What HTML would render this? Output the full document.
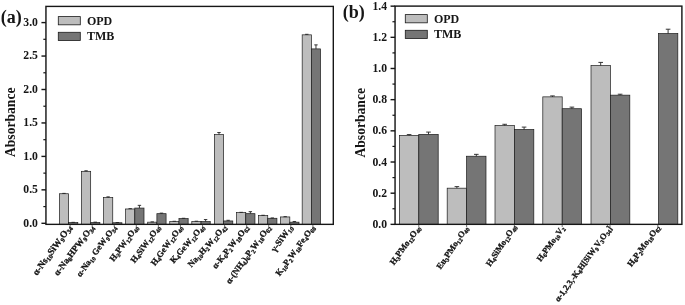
<!DOCTYPE html>
<html><head><meta charset="utf-8"><title>Absorbance charts</title>
<style>
html,body{margin:0;padding:0;background:#fff;}
body{width:685px;height:305px;overflow:hidden;font-family:"Liberation Serif",serif;}
svg{display:block;}
</style></head><body>
<svg width="685" height="305" viewBox="0 0 685 305">
<rect width="685" height="305" fill="#ffffff"/>
<defs><filter id="soft" x="0" y="0" width="685" height="305" filterUnits="userSpaceOnUse"><feGaussianBlur stdDeviation="0.38"/></filter></defs>
<g filter="url(#soft)">
<rect x="59.40" y="193.73" width="9.20" height="30.62" fill="#bdbdbd" stroke="#1c1c1c" stroke-width="0.7"/>
<path d="M64.00 193.73V193.40M62.30 193.40H65.70" stroke="#222" stroke-width="0.9" fill="none"/>
<rect x="68.60" y="222.63" width="9.20" height="1.72" fill="#747474" stroke="#1c1c1c" stroke-width="0.7"/>
<path d="M73.20 222.63V222.36M71.50 222.36H74.90" stroke="#222" stroke-width="0.9" fill="none"/>
<rect x="81.47" y="171.32" width="9.20" height="53.03" fill="#bdbdbd" stroke="#1c1c1c" stroke-width="0.7"/>
<path d="M86.07 171.32V170.78M84.37 170.78H87.77" stroke="#222" stroke-width="0.9" fill="none"/>
<rect x="90.67" y="222.43" width="9.20" height="1.92" fill="#747474" stroke="#1c1c1c" stroke-width="0.7"/>
<path d="M95.27 222.43V222.16M93.57 222.16H96.97" stroke="#222" stroke-width="0.9" fill="none"/>
<rect x="103.54" y="197.54" width="9.20" height="26.81" fill="#bdbdbd" stroke="#1c1c1c" stroke-width="0.7"/>
<path d="M108.14 197.54V196.87M106.44 196.87H109.84" stroke="#222" stroke-width="0.9" fill="none"/>
<rect x="112.74" y="222.76" width="9.20" height="1.59" fill="#747474" stroke="#1c1c1c" stroke-width="0.7"/>
<path d="M117.34 222.76V222.50M115.64 222.50H119.04" stroke="#222" stroke-width="0.9" fill="none"/>
<rect x="125.61" y="208.98" width="9.20" height="15.37" fill="#bdbdbd" stroke="#1c1c1c" stroke-width="0.7"/>
<path d="M130.21 208.98V208.65M128.51 208.65H131.91" stroke="#222" stroke-width="0.9" fill="none"/>
<rect x="134.81" y="208.05" width="9.20" height="16.30" fill="#747474" stroke="#1c1c1c" stroke-width="0.7"/>
<path d="M139.41 208.05V205.37M137.71 205.37H141.11" stroke="#222" stroke-width="0.9" fill="none"/>
<rect x="147.68" y="222.16" width="9.20" height="2.19" fill="#bdbdbd" stroke="#1c1c1c" stroke-width="0.7"/>
<path d="M152.28 222.16V221.90M150.58 221.90H153.98" stroke="#222" stroke-width="0.9" fill="none"/>
<rect x="156.88" y="213.67" width="9.20" height="10.68" fill="#747474" stroke="#1c1c1c" stroke-width="0.7"/>
<path d="M161.48 213.67V213.13M159.78 213.13H163.18" stroke="#222" stroke-width="0.9" fill="none"/>
<rect x="169.75" y="221.56" width="9.20" height="2.79" fill="#bdbdbd" stroke="#1c1c1c" stroke-width="0.7"/>
<path d="M174.35 221.56V221.29M172.65 221.29H176.05" stroke="#222" stroke-width="0.9" fill="none"/>
<rect x="178.95" y="218.62" width="9.20" height="5.73" fill="#747474" stroke="#1c1c1c" stroke-width="0.7"/>
<path d="M183.55 218.62V218.28M181.85 218.28H185.25" stroke="#222" stroke-width="0.9" fill="none"/>
<rect x="191.82" y="221.56" width="9.20" height="2.79" fill="#bdbdbd" stroke="#1c1c1c" stroke-width="0.7"/>
<path d="M196.42 221.56V221.23M194.72 221.23H198.12" stroke="#222" stroke-width="0.9" fill="none"/>
<rect x="201.02" y="221.56" width="9.20" height="2.79" fill="#747474" stroke="#1c1c1c" stroke-width="0.7"/>
<path d="M205.62 221.56V219.55M203.92 219.55H207.32" stroke="#222" stroke-width="0.9" fill="none"/>
<rect x="214.39" y="134.52" width="9.20" height="89.83" fill="#bdbdbd" stroke="#1c1c1c" stroke-width="0.7"/>
<path d="M218.99 134.52V132.52M217.29 132.52H220.69" stroke="#222" stroke-width="0.9" fill="none"/>
<rect x="223.59" y="220.96" width="9.20" height="3.39" fill="#747474" stroke="#1c1c1c" stroke-width="0.7"/>
<path d="M228.19 220.96V220.29M226.49 220.29H229.89" stroke="#222" stroke-width="0.9" fill="none"/>
<rect x="236.56" y="212.60" width="9.20" height="11.75" fill="#bdbdbd" stroke="#1c1c1c" stroke-width="0.7"/>
<path d="M241.16 212.60V212.33M239.46 212.33H242.86" stroke="#222" stroke-width="0.9" fill="none"/>
<rect x="245.76" y="213.67" width="9.20" height="10.68" fill="#747474" stroke="#1c1c1c" stroke-width="0.7"/>
<path d="M250.36 213.67V211.66M248.66 211.66H252.06" stroke="#222" stroke-width="0.9" fill="none"/>
<rect x="258.53" y="215.61" width="9.20" height="8.74" fill="#bdbdbd" stroke="#1c1c1c" stroke-width="0.7"/>
<path d="M263.13 215.61V215.27M261.43 215.27H264.83" stroke="#222" stroke-width="0.9" fill="none"/>
<rect x="267.73" y="218.28" width="9.20" height="6.07" fill="#747474" stroke="#1c1c1c" stroke-width="0.7"/>
<path d="M272.33 218.28V217.95M270.63 217.95H274.03" stroke="#222" stroke-width="0.9" fill="none"/>
<rect x="280.60" y="216.94" width="9.20" height="7.41" fill="#bdbdbd" stroke="#1c1c1c" stroke-width="0.7"/>
<path d="M285.20 216.94V216.68M283.50 216.68H286.90" stroke="#222" stroke-width="0.9" fill="none"/>
<rect x="289.80" y="222.16" width="9.20" height="2.19" fill="#747474" stroke="#1c1c1c" stroke-width="0.7"/>
<path d="M294.40 222.16V221.49M292.70 221.49H296.10" stroke="#222" stroke-width="0.9" fill="none"/>
<rect x="302.17" y="34.84" width="9.20" height="189.51" fill="#bdbdbd" stroke="#1c1c1c" stroke-width="0.7"/>
<path d="M306.77 34.84V34.31M305.07 34.31H308.47" stroke="#222" stroke-width="0.9" fill="none"/>
<rect x="311.37" y="48.89" width="9.20" height="175.46" fill="#747474" stroke="#1c1c1c" stroke-width="0.7"/>
<path d="M315.97 48.89V44.88M314.27 44.88H317.67" stroke="#222" stroke-width="0.9" fill="none"/>
<rect x="45.95" y="6.4" width="287.35" height="217.95" stroke="#141414" stroke-width="1.4" fill="none"/>
<line x1="41.45" x2="45.95" y1="223.30" y2="223.30" stroke="#141414" stroke-width="1.4"/>
<text x="37.95" y="226.70" font-family="Liberation Serif, serif" font-weight="bold" font-size="11.7" text-anchor="end" fill="#141414">0.0</text>
<line x1="41.45" x2="45.95" y1="189.85" y2="189.85" stroke="#141414" stroke-width="1.4"/>
<text x="37.95" y="193.25" font-family="Liberation Serif, serif" font-weight="bold" font-size="11.7" text-anchor="end" fill="#141414">0.5</text>
<line x1="41.45" x2="45.95" y1="156.40" y2="156.40" stroke="#141414" stroke-width="1.4"/>
<text x="37.95" y="159.80" font-family="Liberation Serif, serif" font-weight="bold" font-size="11.7" text-anchor="end" fill="#141414">1.0</text>
<line x1="41.45" x2="45.95" y1="122.95" y2="122.95" stroke="#141414" stroke-width="1.4"/>
<text x="37.95" y="126.35" font-family="Liberation Serif, serif" font-weight="bold" font-size="11.7" text-anchor="end" fill="#141414">1.5</text>
<line x1="41.45" x2="45.95" y1="89.50" y2="89.50" stroke="#141414" stroke-width="1.4"/>
<text x="37.95" y="92.90" font-family="Liberation Serif, serif" font-weight="bold" font-size="11.7" text-anchor="end" fill="#141414">2.0</text>
<line x1="41.45" x2="45.95" y1="56.05" y2="56.05" stroke="#141414" stroke-width="1.4"/>
<text x="37.95" y="59.45" font-family="Liberation Serif, serif" font-weight="bold" font-size="11.7" text-anchor="end" fill="#141414">2.5</text>
<line x1="41.45" x2="45.95" y1="22.60" y2="22.60" stroke="#141414" stroke-width="1.4"/>
<text x="37.95" y="26.00" font-family="Liberation Serif, serif" font-weight="bold" font-size="11.7" text-anchor="end" fill="#141414">3.0</text>
<line x1="43.35" x2="45.95" y1="206.58" y2="206.58" stroke="#141414" stroke-width="1.2"/>
<line x1="43.35" x2="45.95" y1="173.12" y2="173.12" stroke="#141414" stroke-width="1.2"/>
<line x1="43.35" x2="45.95" y1="139.68" y2="139.68" stroke="#141414" stroke-width="1.2"/>
<line x1="43.35" x2="45.95" y1="106.22" y2="106.22" stroke="#141414" stroke-width="1.2"/>
<line x1="43.35" x2="45.95" y1="72.78" y2="72.78" stroke="#141414" stroke-width="1.2"/>
<line x1="43.35" x2="45.95" y1="39.32" y2="39.32" stroke="#141414" stroke-width="1.2"/>
<line x1="70.10" x2="70.10" y1="224.35" y2="227.04999999999998" stroke="#333" stroke-width="0.7"/>
<line x1="92.17" x2="92.17" y1="224.35" y2="227.04999999999998" stroke="#333" stroke-width="0.7"/>
<line x1="114.24" x2="114.24" y1="224.35" y2="227.04999999999998" stroke="#333" stroke-width="0.7"/>
<line x1="136.31" x2="136.31" y1="224.35" y2="227.04999999999998" stroke="#333" stroke-width="0.7"/>
<line x1="158.38" x2="158.38" y1="224.35" y2="227.04999999999998" stroke="#333" stroke-width="0.7"/>
<line x1="180.45" x2="180.45" y1="224.35" y2="227.04999999999998" stroke="#333" stroke-width="0.7"/>
<line x1="202.52" x2="202.52" y1="224.35" y2="227.04999999999998" stroke="#333" stroke-width="0.7"/>
<line x1="224.59" x2="224.59" y1="224.35" y2="227.04999999999998" stroke="#333" stroke-width="0.7"/>
<line x1="246.66" x2="246.66" y1="224.35" y2="227.04999999999998" stroke="#333" stroke-width="0.7"/>
<line x1="268.73" x2="268.73" y1="224.35" y2="227.04999999999998" stroke="#333" stroke-width="0.7"/>
<line x1="290.80" x2="290.80" y1="224.35" y2="227.04999999999998" stroke="#333" stroke-width="0.7"/>
<line x1="312.87" x2="312.87" y1="224.35" y2="227.04999999999998" stroke="#333" stroke-width="0.7"/>
<text transform="translate(72.20 227.75) rotate(-54)" font-family="Liberation Serif, serif" font-weight="bold" font-size="9.48" text-anchor="end" fill="#141414" stroke="#141414" stroke-width="0.3"><tspan dy="0">α-Ns</tspan><tspan font-size="6.43" dy="1.6">10</tspan><tspan dy="-1.6">SiW</tspan><tspan font-size="6.43" dy="1.6">9</tspan><tspan dy="-1.6">O</tspan><tspan font-size="6.43" dy="1.6">34</tspan></text>
<text transform="translate(94.57 227.75) rotate(-53)" font-family="Liberation Serif, serif" font-weight="bold" font-size="9.13" text-anchor="end" fill="#141414" stroke="#141414" stroke-width="0.3"><tspan dy="0">α-Na</tspan><tspan font-size="6.2" dy="1.6">8</tspan><tspan dy="-1.6">HPW</tspan><tspan font-size="6.2" dy="1.6">9</tspan><tspan dy="-1.6">O</tspan><tspan font-size="6.2" dy="1.6">34</tspan></text>
<text transform="translate(116.64 227.75) rotate(-54)" font-family="Liberation Serif, serif" font-weight="bold" font-size="8.70" text-anchor="end" fill="#141414" stroke="#141414" stroke-width="0.3"><tspan dy="0">α-Na</tspan><tspan font-size="5.9" dy="1.6">10</tspan><tspan dy="-1.6"> GeW</tspan><tspan font-size="5.9" dy="1.6">9</tspan><tspan dy="-1.6">O</tspan><tspan font-size="5.9" dy="1.6">34</tspan></text>
<text transform="translate(138.71 227.75) rotate(-54)" font-family="Liberation Serif, serif" font-weight="bold" font-size="8.70" text-anchor="end" fill="#141414" stroke="#141414" stroke-width="0.3"><tspan dy="0">H</tspan><tspan font-size="5.9" dy="1.6">3</tspan><tspan dy="-1.6">PW</tspan><tspan font-size="5.9" dy="1.6">12</tspan><tspan dy="-1.6">O</tspan><tspan font-size="5.9" dy="1.6">40</tspan></text>
<text transform="translate(160.78 227.75) rotate(-54)" font-family="Liberation Serif, serif" font-weight="bold" font-size="8.70" text-anchor="end" fill="#141414" stroke="#141414" stroke-width="0.3"><tspan dy="0">H</tspan><tspan font-size="5.9" dy="1.6">4</tspan><tspan dy="-1.6">SiW</tspan><tspan font-size="5.9" dy="1.6">12</tspan><tspan dy="-1.6">O</tspan><tspan font-size="5.9" dy="1.6">40</tspan></text>
<text transform="translate(182.85 227.75) rotate(-54)" font-family="Liberation Serif, serif" font-weight="bold" font-size="8.70" text-anchor="end" fill="#141414" stroke="#141414" stroke-width="0.3"><tspan dy="0">H</tspan><tspan font-size="5.9" dy="1.6">4</tspan><tspan dy="-1.6">GeW</tspan><tspan font-size="5.9" dy="1.6">12</tspan><tspan dy="-1.6">O</tspan><tspan font-size="5.9" dy="1.6">40</tspan></text>
<text transform="translate(204.92 227.75) rotate(-49)" font-family="Liberation Serif, serif" font-weight="bold" font-size="8.70" text-anchor="end" fill="#141414" stroke="#141414" stroke-width="0.3"><tspan dy="0">K</tspan><tspan font-size="5.9" dy="1.6">4</tspan><tspan dy="-1.6">GeW</tspan><tspan font-size="5.9" dy="1.6">12</tspan><tspan dy="-1.6">O</tspan><tspan font-size="5.9" dy="1.6">40</tspan></text>
<text transform="translate(226.99 227.75) rotate(-48.5)" font-family="Liberation Serif, serif" font-weight="bold" font-size="8.70" text-anchor="end" fill="#141414" stroke="#141414" stroke-width="0.3"><tspan dy="0">Na</tspan><tspan font-size="5.9" dy="1.6">10</tspan><tspan dy="-1.6">H</tspan><tspan font-size="5.9" dy="1.6">2</tspan><tspan dy="-1.6">W</tspan><tspan font-size="5.9" dy="1.6">12</tspan><tspan dy="-1.6">O</tspan><tspan font-size="5.9" dy="1.6">42</tspan></text>
<text transform="translate(249.06 227.75) rotate(-51.5)" font-family="Liberation Serif, serif" font-weight="bold" font-size="8.70" text-anchor="end" fill="#141414" stroke="#141414" stroke-width="0.3"><tspan dy="0">α-K</tspan><tspan font-size="5.9" dy="1.6">6</tspan><tspan dy="-1.6">P</tspan><tspan font-size="5.9" dy="1.6">2</tspan><tspan dy="-1.6">W</tspan><tspan font-size="5.9" dy="1.6">18</tspan><tspan dy="-1.6">O</tspan><tspan font-size="5.9" dy="1.6">62</tspan></text>
<text transform="translate(271.13 227.75) rotate(-54)" font-family="Liberation Serif, serif" font-weight="bold" font-size="8.96" text-anchor="end" fill="#141414" stroke="#141414" stroke-width="0.3"><tspan dy="0">α-(NH</tspan><tspan font-size="6.08" dy="1.6">4</tspan><tspan dy="-1.6">)</tspan><tspan font-size="6.08" dy="1.6">6</tspan><tspan dy="-1.6">P</tspan><tspan font-size="6.08" dy="1.6">2</tspan><tspan dy="-1.6">W</tspan><tspan font-size="6.08" dy="1.6">18</tspan><tspan dy="-1.6">O</tspan><tspan font-size="6.08" dy="1.6">62</tspan></text>
<text transform="translate(293.20 227.75) rotate(-54)" font-family="Liberation Serif, serif" font-weight="bold" font-size="9.22" text-anchor="end" fill="#141414" stroke="#141414" stroke-width="0.3"><tspan dy="0">γ-SiW</tspan><tspan font-size="6.25" dy="1.6">10</tspan></text>
<text transform="translate(315.27 227.75) rotate(-54)" font-family="Liberation Serif, serif" font-weight="bold" font-size="8.70" text-anchor="end" fill="#141414" stroke="#141414" stroke-width="0.3"><tspan dy="0">K</tspan><tspan font-size="5.9" dy="1.6">10</tspan><tspan dy="-1.6">P</tspan><tspan font-size="5.9" dy="1.6">2</tspan><tspan dy="-1.6">W</tspan><tspan font-size="5.9" dy="1.6">18</tspan><tspan dy="-1.6">Fe</tspan><tspan font-size="5.9" dy="1.6">4</tspan><tspan dy="-1.6">O</tspan><tspan font-size="5.9" dy="1.6">68</tspan></text>
<text x="0.8" y="22.7" font-family="Liberation Serif, serif" font-weight="bold" font-size="18" fill="#141414">(a)</text>
<text transform="translate(15.3 122.3) rotate(-90)" font-family="Liberation Serif, serif" font-weight="bold" font-size="13.6" text-anchor="middle" fill="#141414">Absorbance</text>
<rect x="58.3" y="16.6" width="22" height="8.2" fill="#bdbdbd" stroke="#1c1c1c" stroke-width="0.8"/>
<rect x="58.3" y="32.3" width="22" height="8.2" fill="#747474" stroke="#1c1c1c" stroke-width="0.8"/>
<text x="86.9" y="24.700000000000003" font-family="Liberation Serif, serif" font-weight="bold" font-size="12" fill="#141414">OPD</text>
<text x="86.9" y="40.400000000000006" font-family="Liberation Serif, serif" font-weight="bold" font-size="12" fill="#141414">TMB</text>
<rect x="399.40" y="135.51" width="19.40" height="88.84" fill="#bdbdbd" stroke="#1c1c1c" stroke-width="0.7"/>
<path d="M409.10 135.51V134.57M406.80 134.57H411.40" stroke="#222" stroke-width="0.9" fill="none"/>
<rect x="418.80" y="134.42" width="19.40" height="89.93" fill="#747474" stroke="#1c1c1c" stroke-width="0.7"/>
<path d="M428.50 134.42V132.08M426.20 132.08H430.80" stroke="#222" stroke-width="0.9" fill="none"/>
<rect x="447.20" y="188.19" width="19.40" height="36.16" fill="#bdbdbd" stroke="#1c1c1c" stroke-width="0.7"/>
<path d="M456.90 188.19V186.63M454.60 186.63H459.20" stroke="#222" stroke-width="0.9" fill="none"/>
<rect x="466.60" y="156.24" width="19.40" height="68.11" fill="#747474" stroke="#1c1c1c" stroke-width="0.7"/>
<path d="M476.30 156.24V154.37M474.00 154.37H478.60" stroke="#222" stroke-width="0.9" fill="none"/>
<rect x="495.00" y="125.53" width="19.40" height="98.82" fill="#bdbdbd" stroke="#1c1c1c" stroke-width="0.7"/>
<path d="M504.70 125.53V124.29M502.40 124.29H507.00" stroke="#222" stroke-width="0.9" fill="none"/>
<rect x="514.40" y="129.43" width="19.40" height="94.92" fill="#747474" stroke="#1c1c1c" stroke-width="0.7"/>
<path d="M524.10 129.43V127.09M521.80 127.09H526.40" stroke="#222" stroke-width="0.9" fill="none"/>
<rect x="542.80" y="96.86" width="19.40" height="127.49" fill="#bdbdbd" stroke="#1c1c1c" stroke-width="0.7"/>
<path d="M552.50 96.86V95.92M550.20 95.92H554.80" stroke="#222" stroke-width="0.9" fill="none"/>
<rect x="562.20" y="108.70" width="19.40" height="115.65" fill="#747474" stroke="#1c1c1c" stroke-width="0.7"/>
<path d="M571.90 108.70V107.14M569.60 107.14H574.20" stroke="#222" stroke-width="0.9" fill="none"/>
<rect x="591.00" y="65.53" width="19.40" height="158.82" fill="#bdbdbd" stroke="#1c1c1c" stroke-width="0.7"/>
<path d="M600.70 65.53V62.41M598.40 62.41H603.00" stroke="#222" stroke-width="0.9" fill="none"/>
<rect x="610.40" y="95.14" width="19.40" height="129.21" fill="#747474" stroke="#1c1c1c" stroke-width="0.7"/>
<path d="M620.10 95.14V94.21M617.80 94.21H622.40" stroke="#222" stroke-width="0.9" fill="none"/>
<rect x="658.40" y="33.58" width="19.40" height="190.77" fill="#747474" stroke="#1c1c1c" stroke-width="0.7"/>
<path d="M668.10 33.58V29.21M665.80 29.21H670.40" stroke="#222" stroke-width="0.9" fill="none"/>
<rect x="395.05" y="6.1" width="286.85" height="218.25" stroke="#141414" stroke-width="1.4" fill="none"/>
<line x1="390.55" x2="395.05" y1="224.35" y2="224.35" stroke="#141414" stroke-width="1.4"/>
<text x="387.05" y="227.85" font-family="Liberation Serif, serif" font-weight="bold" font-size="11.7" text-anchor="end" fill="#141414">0.0</text>
<line x1="390.55" x2="395.05" y1="193.18" y2="193.18" stroke="#141414" stroke-width="1.4"/>
<text x="387.05" y="196.68" font-family="Liberation Serif, serif" font-weight="bold" font-size="11.7" text-anchor="end" fill="#141414">0.2</text>
<line x1="390.55" x2="395.05" y1="162.01" y2="162.01" stroke="#141414" stroke-width="1.4"/>
<text x="387.05" y="165.51" font-family="Liberation Serif, serif" font-weight="bold" font-size="11.7" text-anchor="end" fill="#141414">0.4</text>
<line x1="390.55" x2="395.05" y1="130.83" y2="130.83" stroke="#141414" stroke-width="1.4"/>
<text x="387.05" y="134.33" font-family="Liberation Serif, serif" font-weight="bold" font-size="11.7" text-anchor="end" fill="#141414">0.6</text>
<line x1="390.55" x2="395.05" y1="99.66" y2="99.66" stroke="#141414" stroke-width="1.4"/>
<text x="387.05" y="103.16" font-family="Liberation Serif, serif" font-weight="bold" font-size="11.7" text-anchor="end" fill="#141414">0.8</text>
<line x1="390.55" x2="395.05" y1="68.49" y2="68.49" stroke="#141414" stroke-width="1.4"/>
<text x="387.05" y="71.99" font-family="Liberation Serif, serif" font-weight="bold" font-size="11.7" text-anchor="end" fill="#141414">1.0</text>
<line x1="390.55" x2="395.05" y1="37.32" y2="37.32" stroke="#141414" stroke-width="1.4"/>
<text x="387.05" y="40.82" font-family="Liberation Serif, serif" font-weight="bold" font-size="11.7" text-anchor="end" fill="#141414">1.2</text>
<line x1="390.55" x2="395.05" y1="6.15" y2="6.15" stroke="#141414" stroke-width="1.4"/>
<text x="387.05" y="9.65" font-family="Liberation Serif, serif" font-weight="bold" font-size="11.7" text-anchor="end" fill="#141414">1.4</text>
<line x1="392.45" x2="395.05" y1="208.76" y2="208.76" stroke="#141414" stroke-width="1.2"/>
<line x1="392.45" x2="395.05" y1="177.59" y2="177.59" stroke="#141414" stroke-width="1.2"/>
<line x1="392.45" x2="395.05" y1="146.42" y2="146.42" stroke="#141414" stroke-width="1.2"/>
<line x1="392.45" x2="395.05" y1="115.25" y2="115.25" stroke="#141414" stroke-width="1.2"/>
<line x1="392.45" x2="395.05" y1="84.08" y2="84.08" stroke="#141414" stroke-width="1.2"/>
<line x1="392.45" x2="395.05" y1="52.90" y2="52.90" stroke="#141414" stroke-width="1.2"/>
<line x1="392.45" x2="395.05" y1="21.73" y2="21.73" stroke="#141414" stroke-width="1.2"/>
<line x1="418.80" x2="418.80" y1="224.35" y2="227.04999999999998" stroke="#333" stroke-width="0.7"/>
<line x1="466.60" x2="466.60" y1="224.35" y2="227.04999999999998" stroke="#333" stroke-width="0.7"/>
<line x1="514.40" x2="514.40" y1="224.35" y2="227.04999999999998" stroke="#333" stroke-width="0.7"/>
<line x1="562.20" x2="562.20" y1="224.35" y2="227.04999999999998" stroke="#333" stroke-width="0.7"/>
<line x1="610.00" x2="610.00" y1="224.35" y2="227.04999999999998" stroke="#333" stroke-width="0.7"/>
<line x1="657.80" x2="657.80" y1="224.35" y2="227.04999999999998" stroke="#333" stroke-width="0.7"/>
<text transform="translate(421.00 228.15) rotate(-54)" font-family="Liberation Serif, serif" font-weight="bold" font-size="8.70" text-anchor="end" fill="#141414" stroke="#141414" stroke-width="0.3"><tspan dy="0">H</tspan><tspan font-size="5.9" dy="1.6">3</tspan><tspan dy="-1.6">PMo</tspan><tspan font-size="5.9" dy="1.6">12</tspan><tspan dy="-1.6">O</tspan><tspan font-size="5.9" dy="1.6">40</tspan></text>
<text transform="translate(468.80 228.35) rotate(-56)" font-family="Liberation Serif, serif" font-weight="bold" font-size="8.70" text-anchor="end" fill="#141414" stroke="#141414" stroke-width="0.3"><tspan dy="0">Eu</tspan><tspan font-size="5.9" dy="1.6">3</tspan><tspan dy="-1.6">PMo</tspan><tspan font-size="5.9" dy="1.6">12</tspan><tspan dy="-1.6">O</tspan><tspan font-size="5.9" dy="1.6">40</tspan></text>
<text transform="translate(516.80 226.85) rotate(-56.5)" font-family="Liberation Serif, serif" font-weight="bold" font-size="8.70" text-anchor="end" fill="#141414" stroke="#141414" stroke-width="0.3"><tspan dy="0">H</tspan><tspan font-size="5.9" dy="1.6">4</tspan><tspan dy="-1.6">SiMo</tspan><tspan font-size="5.9" dy="1.6">12</tspan><tspan dy="-1.6">O</tspan><tspan font-size="5.9" dy="1.6">40</tspan></text>
<text transform="translate(565.00 228.45) rotate(-54)" font-family="Liberation Serif, serif" font-weight="bold" font-size="8.44" text-anchor="end" fill="#141414" stroke="#141414" stroke-width="0.3"><tspan dy="0">H</tspan><tspan font-size="5.72" dy="1.6">6</tspan><tspan dy="-1.6">PMo</tspan><tspan font-size="5.72" dy="1.6">10</tspan><tspan dy="-1.6">V</tspan><tspan font-size="5.72" dy="1.6">2</tspan></text>
<text transform="translate(612.40 228.45) rotate(-54)" font-family="Liberation Serif, serif" font-weight="bold" font-size="8.53" text-anchor="end" fill="#141414" stroke="#141414" stroke-width="0.3"><tspan dy="0">α-1,2,3,-K</tspan><tspan font-size="5.78" dy="1.6">6</tspan><tspan dy="-1.6">H[SiW</tspan><tspan font-size="5.78" dy="1.6">9</tspan><tspan dy="-1.6">V</tspan><tspan font-size="5.78" dy="1.6">3</tspan><tspan dy="-1.6">O</tspan><tspan font-size="5.78" dy="1.6">34</tspan><tspan dy="-1.6">]</tspan></text>
<text transform="translate(660.40 227.55) rotate(-54)" font-family="Liberation Serif, serif" font-weight="bold" font-size="8.70" text-anchor="end" fill="#141414" stroke="#141414" stroke-width="0.3"><tspan dy="0">H</tspan><tspan font-size="5.9" dy="1.6">6</tspan><tspan dy="-1.6">P</tspan><tspan font-size="5.9" dy="1.6">2</tspan><tspan dy="-1.6">Mo</tspan><tspan font-size="5.9" dy="1.6">18</tspan><tspan dy="-1.6">O</tspan><tspan font-size="5.9" dy="1.6">62</tspan></text>
<text x="342.8" y="17.5" font-family="Liberation Serif, serif" font-weight="bold" font-size="18" fill="#141414">(b)</text>
<text transform="translate(365.3 122.8) rotate(-90)" font-family="Liberation Serif, serif" font-weight="bold" font-size="13.6" text-anchor="middle" fill="#141414">Absorbance</text>
<rect x="405.3" y="14.6" width="22" height="8.2" fill="#bdbdbd" stroke="#1c1c1c" stroke-width="0.8"/>
<rect x="405.3" y="30.299999999999997" width="22" height="8.2" fill="#747474" stroke="#1c1c1c" stroke-width="0.8"/>
<text x="433.90000000000003" y="22.7" font-family="Liberation Serif, serif" font-weight="bold" font-size="12" fill="#141414">OPD</text>
<text x="433.90000000000003" y="38.4" font-family="Liberation Serif, serif" font-weight="bold" font-size="12" fill="#141414">TMB</text>
</g>
</svg>
</body></html>
